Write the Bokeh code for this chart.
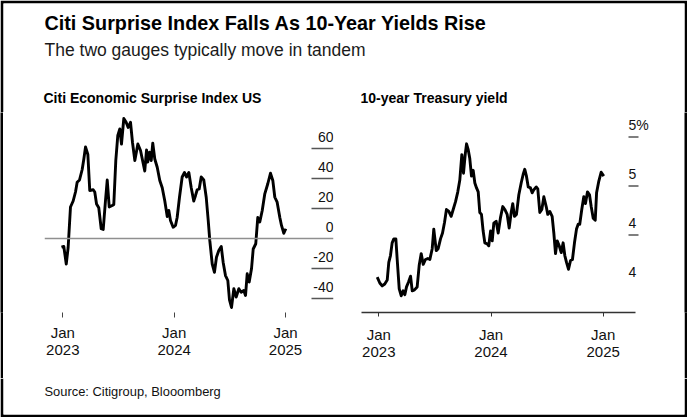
import math
from bokeh.plotting import figure
from bokeh.models import ColumnDataSource, Range1d, LinearAxis, FixedTicker, Span
from bokeh.layouts import column, row
from bokeh.core.properties import value
from bokeh.embed import file_html
from bokeh.resources import INLINE

# ---------------- data ----------------
TITLE = "Citi Surprise Index Falls As 10-Year Yields Rise"
SUBTITLE = "The two gauges typically move in tandem"
LEFT_TITLE = "Citi Economic Surprise Index US"
RIGHT_TITLE = "10-year Treasury yield"
SOURCE = "Source: Citigroup, Blooomberg"

x_ticks = [2023, 2024, 2025]
x_tick_labels = ["Jan\n2023", "Jan\n2024", "Jan\n2025"]

ces_ticks = [60, 40, 20, 0, -20, -40]
ces_tick_labels = ["60", "40", "20", "0", "-20", "-40"]

ust_ticks = [5.0, 4.5, 4.0, 3.5]
ust_tick_labels = ["5%", "5", "4", "4"]

ces_year = [2022.988, 2023.009, 2023.031, 2023.048, 2023.069, 2023.093, 2023.114, 2023.129,
            2023.150, 2023.174, 2023.189, 2023.204, 2023.225, 2023.242, 2023.273, 2023.287,
            2023.303, 2023.323, 2023.345, 2023.363, 2023.383, 2023.399, 2023.417, 2023.444,
            2023.458, 2023.476, 2023.494, 2023.512, 2023.527, 2023.548, 2023.569, 2023.587,
            2023.608, 2023.626, 2023.647, 2023.674, 2023.698, 2023.722, 2023.736, 2023.752,
            2023.763, 2023.779, 2023.794, 2023.808, 2023.826, 2023.848, 2023.871, 2023.893,
            2023.916, 2023.938, 2023.952, 2023.967, 2023.991, 2024.012, 2024.027, 2024.048,
            2024.072, 2024.093, 2024.111, 2024.132, 2024.153, 2024.176, 2024.192, 2024.207,
            2024.225, 2024.243, 2024.266, 2024.288, 2024.306, 2024.320, 2024.342, 2024.362,
            2024.380, 2024.401, 2024.423, 2024.440, 2024.461, 2024.482, 2024.497, 2024.515,
            2024.536, 2024.557, 2024.581, 2024.602, 2024.625, 2024.641, 2024.656, 2024.674,
            2024.695, 2024.710, 2024.733, 2024.751, 2024.769, 2024.791, 2024.814, 2024.841,
            2024.865, 2024.886, 2024.904, 2024.925, 2024.949, 2024.964, 2024.985, 2025.003]
ces_value = [-5.8, -5.3, -17, -6, 21, 25, 31, 37.5, 39, 46, 53, 61, 56, 32, 32.5, 31,
             23, 20.5, 6.5, 6, 25, 39, 21, 22, 22.7, 52, 68.7, 73, 63, 80, 77.5, 74,
             77.5, 64, 52, 63, 58.7, 50, 45, 59, 51, 57.5, 52, 63.5, 53, 47.5, 38.7, 33.8,
             25, 14.7, 18.7, 12, 7.5, 8.7, 14, 27.5, 41, 44, 41, 44, 34, 25, 28.7, 32.5,
             33, 41, 39, 27.5, 12, -1.3, -17, -22.5, -12.5, -8, -5.3, -15.8, -24.7, -28,
             -41, -46, -33.5, -39, -33.5, -35.8, -34.7, -38, -23.5, -29, -20, -7, -3.5,
             14, 11, 18.7, 29.8, 36.5, 43.5, 38.7, 27.5, 24.2, 14, 8.7, 3.5, 6.5]

ust_year = [2022.986, 2023.009, 2023.030, 2023.053, 2023.075, 2023.089, 2023.104, 2023.119,
            2023.134, 2023.152, 2023.164, 2023.182, 2023.200, 2023.217, 2023.232, 2023.247,
            2023.265, 2023.283, 2023.298, 2023.318, 2023.342, 2023.360, 2023.378, 2023.396,
            2023.416, 2023.437, 2023.455, 2023.476, 2023.490, 2023.512, 2023.529, 2023.550,
            2023.568, 2023.586, 2023.603, 2023.624, 2023.645, 2023.663, 2023.684, 2023.704,
            2023.722, 2023.740, 2023.755, 2023.770, 2023.782, 2023.797, 2023.811, 2023.826,
            2023.841, 2023.856, 2023.871, 2023.886, 2023.900, 2023.915, 2023.930, 2023.945,
            2023.966, 2023.980, 2023.996, 2024.011, 2024.025, 2024.046, 2024.064, 2024.085,
            2024.105, 2024.123, 2024.144, 2024.162, 2024.180, 2024.194, 2024.209, 2024.227,
            2024.248, 2024.269, 2024.287, 2024.301, 2024.316, 2024.332, 2024.352, 2024.367,
            2024.381, 2024.403, 2024.417, 2024.435, 2024.453, 2024.471, 2024.492, 2024.506,
            2024.524, 2024.545, 2024.560, 2024.575, 2024.590, 2024.608, 2024.626, 2024.643,
            2024.658, 2024.673, 2024.691, 2024.709, 2024.726, 2024.744, 2024.762, 2024.777,
            2024.791, 2024.809, 2024.827, 2024.842, 2024.860, 2024.878, 2024.893, 2024.911,
            2024.929, 2024.941, 2024.961, 2024.982, 2025.005]
ust_value = [3.57, 3.51, 3.48, 3.50, 3.54, 3.72, 3.79, 3.92, 3.96, 3.96, 3.75, 3.45, 3.38,
             3.43, 3.39, 3.47, 3.52, 3.58, 3.43, 3.44, 3.47, 3.69, 3.81, 3.70, 3.75, 3.76,
             3.75, 3.86, 4.06, 3.84, 3.86, 3.96, 4.02, 4.13, 4.26, 4.24, 4.19, 4.26, 4.34,
             4.44, 4.56, 4.82, 4.63, 4.82, 4.93, 4.87, 4.78, 4.60, 4.66, 4.53, 4.48, 4.44,
             4.23, 4.21, 4.04, 3.92, 3.91, 3.89, 4.04, 3.94, 4.12, 4.14, 4.02, 4.18, 4.29,
             4.26, 4.21, 4.07, 4.23, 4.32, 4.19, 4.21, 4.41, 4.53, 4.62, 4.67, 4.60, 4.49,
             4.48, 4.43, 4.46, 4.49, 4.47, 4.23, 4.26, 4.39, 4.29, 4.21, 4.24, 4.19, 4.02,
             3.81, 3.94, 3.89, 3.82, 3.92, 3.79, 3.72, 3.65, 3.74, 3.75, 3.92, 4.06, 4.11,
             4.11, 4.26, 4.39, 4.32, 4.44, 4.41, 4.29, 4.17, 4.15, 4.43, 4.55, 4.64, 4.60]

# ---------------- style / layout ----------------
FONT = "Liberation Sans"
INK = "#111111"
W = 687
B = 3            # black frame around the graphic
LINE_W = 2.9
HDR_H = 112
ROW_H = 266
FTR_H = 417 - HDR_H - ROW_H


def panel(width, height, top, bottom):
    """White text panel framed by black borders; data coordinates equal page pixels."""
    f = figure(width=width, height=height, x_range=Range1d(B, width - B),
               y_range=Range1d(top + height - (B if bottom else 0), top + (B if not bottom else 0)),
               x_axis_type=None, y_axis_type=None, toolbar_location=None, output_backend="svg",
               min_border_left=B, min_border_right=B,
               min_border_top=0 if bottom else B, min_border_bottom=B if bottom else 0,
               title=None, outline_line_color=None)
    f.background_fill_color = "white"
    f.border_fill_color = "black"
    return f


def edge(height):
    f = figure(width=B, height=height, x_axis_type=None, y_axis_type=None, toolbar_location=None,
               output_backend="svg", min_border=0, title=None, outline_line_color=None)
    f.background_fill_color = "black"
    f.border_fill_color = "black"
    return f


# header (titles); y = vertical centre of the capitals, in page pixels
hdr = panel(W, HDR_H, 0, bottom=False)
hdr.text(x=[44], y=[22], text=[TITLE], text_font=value(FONT), text_font_style="bold",
         text_font_size="19.8px", text_color="#000000", text_baseline="middle")
hdr.text(x=[44], y=[49], text=[SUBTITLE], text_font=value(FONT),
         text_font_size="17.5px", text_color="#1a1a1a", text_baseline="middle")
hdr.text(x=[43, 360], y=[97.5, 97.5], text=[LEFT_TITLE, RIGHT_TITLE], text_font=value(FONT),
         text_font_style="bold", text_font_size="14px", text_color="#000000",
         text_baseline="middle")

# footer (source)
ftr = panel(W, FTR_H, HDR_H + ROW_H, bottom=True)
ftr.text(x=[44], y=[391], text=[SOURCE], text_font=value(FONT), text_font_size="12.9px",
         text_color="#111111", text_baseline="middle")

# ---------------- left chart ----------------
P1_W = 342
P1_L, P1_R, P1_T, P1_B = 41, 12, 0, 66
px_per_year1 = 111.35
jan23_px1 = 62.3 - B - P1_L           # pixel of Jan 2023 inside the frame
fw1 = P1_W - P1_L - P1_R
fh1 = ROW_H - P1_T - P1_B
x1s = 2023 - jan23_px1 / px_per_year1
x1e = x1s + fw1 / px_per_year1
zero_px1 = 238 - HDR_H                # zero line, from frame top
px_per_unit1 = 1.5
y1e = zero_px1 / px_per_unit1
y1s = y1e - fh1 / px_per_unit1

p1 = figure(width=P1_W, height=ROW_H, x_range=Range1d(x1s, x1e), y_range=Range1d(y1s, y1e),
            x_axis_type=None, y_axis_type=None, toolbar_location=None, output_backend="svg",
            title=None, min_border_left=P1_L, min_border_right=P1_R, min_border_top=P1_T,
            min_border_bottom=P1_B, outline_line_color=None)

p1.add_layout(Span(location=0, dimension="width", line_color="#8f8f8f", line_width=1.6))
p1.line(x=ces_year, y=ces_value, line_color="#000000", line_width=LINE_W, line_join="round")

LAB_GAP1 = 11.5 / px_per_unit1        # label centre sits 11.5 px above its tick
tick_src1 = ColumnDataSource(dict(x=[x1e] * len(ces_ticks),
                                  y=[v + LAB_GAP1 for v in ces_ticks], t=ces_tick_labels))
nz = [v for v in ces_ticks if v != 0]
p1.ray(x=[x1e] * len(nz), y=nz, length=22, length_units="screen", angle=math.pi,
       line_color="#555555", line_width=1.6)
p1.text(x="x", y="y", text="t", source=tick_src1, text_align="right", text_baseline="middle",
        text_font=value(FONT), text_font_size="14px", text_color=INK)

ax1 = LinearAxis(ticker=FixedTicker(ticks=x_ticks),
                 major_label_overrides=dict(zip(x_ticks, x_tick_labels)),
                 axis_line_color=None, major_tick_in=0, major_tick_out=5,
                 major_tick_line_color="#444444", major_tick_line_width=1,
                 minor_tick_line_color=None, major_label_standoff=6,
                 major_label_text_font=FONT, major_label_text_font_size="15px",
                 major_label_text_line_height=1.0,
                 major_label_text_color=INK)
p1.add_layout(ax1, "below")

# ---------------- right chart ----------------
P2_W = W - 2 * B - P1_W
P2_L, P2_R, P2_T, P2_B = 16, 29, 0, 64
px_per_year2 = 112.2
jan23_px2 = 378.3 - (B + P1_W) - P2_L
fw2 = P2_W - P2_L - P2_R
fh2 = ROW_H - P2_T - P2_B
x2s = 2023 - jan23_px2 / px_per_year2
x2e = x2s + fw2 / px_per_year2
px_per_unit2 = 99.0
y2e = 5.0 + (136.7 - HDR_H) / px_per_unit2
y2s = y2e - fh2 / px_per_unit2

p2 = figure(width=P2_W, height=ROW_H, x_range=Range1d(x2s, x2e), y_range=Range1d(y2s, y2e),
            x_axis_type=None, y_axis_type=None, toolbar_location=None, output_backend="svg",
            title=None, min_border_left=P2_L, min_border_right=P2_R, min_border_top=P2_T,
            min_border_bottom=P2_B, outline_line_color=None)

p2.line(x=ust_year, y=ust_value, line_color="#000000", line_width=LINE_W, line_join="round")

lab_x2 = x2e - 27 / px_per_year2
tick_x2 = x2e - 17 / px_per_year2
marked = ust_ticks[:3]
p2.segment(x0=[lab_x2] * len(marked), x1=[tick_x2] * len(marked), y0=marked, y1=marked,
           line_color="#555555", line_width=1.6)
LAB_GAP2 = 12.5 / px_per_unit2
tick_src2 = ColumnDataSource(dict(x=[lab_x2] * len(ust_ticks),
                                  y=[v + LAB_GAP2 for v in ust_ticks], t=ust_tick_labels))
p2.text(x="x", y="y", text="t", source=tick_src2, text_align="left", text_baseline="middle",
        text_font=value(FONT), text_font_size="14px", text_color=INK)

ax2 = LinearAxis(ticker=FixedTicker(ticks=x_ticks),
                 major_label_overrides=dict(zip(x_ticks, x_tick_labels)),
                 bounds=(x2s, x2e - 20 / px_per_year2),
                 axis_line_color="#333333", axis_line_width=1.5, major_tick_in=0, major_tick_out=4,
                 major_tick_line_color="#333333", major_tick_line_width=1,
                 minor_tick_line_color=None, major_label_standoff=9,
                 major_label_text_font=FONT, major_label_text_font_size="15px",
                 major_label_text_line_height=1.0,
                 major_label_text_color=INK)
p2.add_layout(ax2, "below")

for f in (p1, p2):
    f.background_fill_color = "white"
    f.border_fill_color = "white"

layout = column(hdr, row(edge(ROW_H), p1, p2, edge(ROW_H)), ftr)

open("out.html", "w").write(file_html(layout, INLINE))
